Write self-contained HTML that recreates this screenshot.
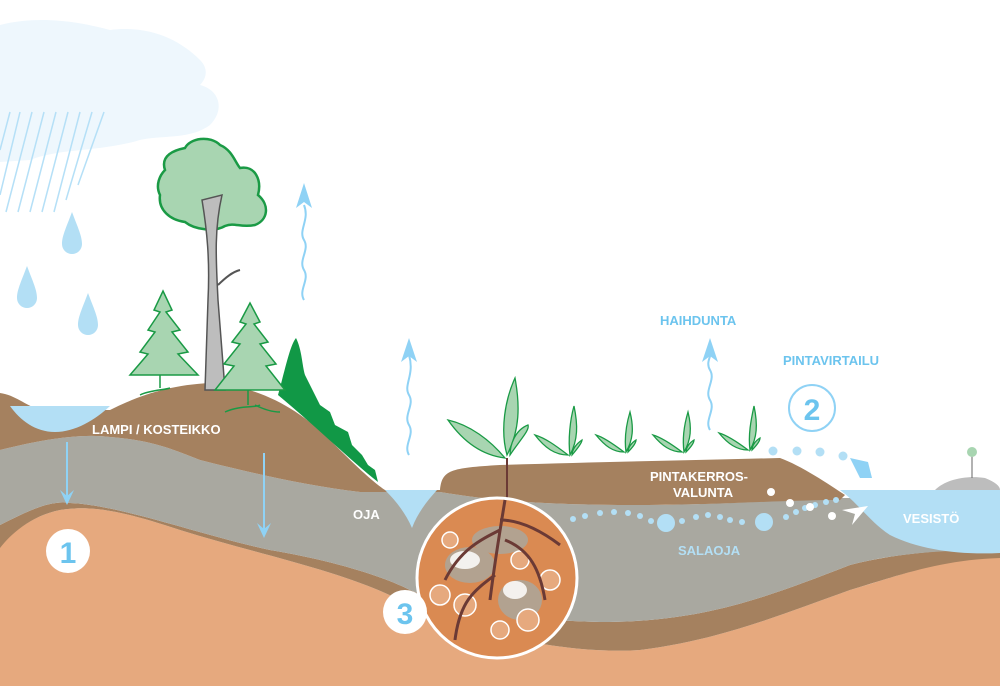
<!DOCTYPE html>
<html><head><meta charset="utf-8"><style>
html,body{margin:0;padding:0;background:#fff}
svg{display:block}
text{font-family:"Liberation Sans",sans-serif;font-weight:bold}
</style></head><body>
<svg width="1000" height="686" viewBox="0 0 1000 686" xmlns="http://www.w3.org/2000/svg">
<!-- cloud -->
<path d="M0,25 C40,15 80,22 110,30 C150,25 180,40 200,60 C210,70 205,80 200,85 C220,90 225,110 210,125 C190,140 160,135 140,140 C100,152 60,148 30,160 L0,162 Z" fill="#eef7fd"/>
<g stroke="#b5e0f7" stroke-width="1.5">
<line x1="0" y1="150" x2="10" y2="112"/><line x1="6" y1="212" x2="32" y2="112"/><line x1="18" y1="212" x2="44" y2="112"/><line x1="30" y1="212" x2="56" y2="112"/><line x1="42" y1="212" x2="68" y2="112"/><line x1="54" y1="212" x2="80" y2="112"/><line x1="66" y1="200" x2="92" y2="112"/><line x1="78" y1="185" x2="104" y2="112"/><line x1="0" y1="195" x2="20" y2="112"/>
</g>
<g fill="#b3dff5">
<path d="M72,212 C66,228 62,236 62,244 A10,10 0 0 0 82,244 C82,236 78,228 72,212Z"/>
<path d="M27,266 C21,282 17,290 17,298 A10,10 0 0 0 37,298 C37,290 33,282 27,266Z"/>
<path d="M88,293 C82,309 78,317 78,325 A10,10 0 0 0 98,325 C98,317 94,309 88,293Z"/>
</g>
<!-- layers -->
<path d="M0,560 L0,686 L1000,686 L1000,555 C940,560 900,575 850,590 C780,615 720,640 640,650 C560,655 460,630 400,600 C340,570 260,555 180,530 C120,510 90,505 60,510 C30,516 10,535 0,545Z" fill="#e6a97e"/>
<path d="M0,525 C30,510 50,500 70,503 C120,505 200,535 270,550 C330,560 380,575 410,590 C460,610 520,620 600,622 C700,622 760,600 850,565 C900,552 950,550 1000,548 L1000,558 C940,560 900,575 850,590 C780,615 720,640 640,650 C560,655 460,630 400,600 C340,570 260,555 180,530 C120,510 90,505 60,510 C30,516 10,535 0,548Z" fill="#a5815f"/>
<path d="M0,450 C40,440 80,433 110,437 C150,440 170,448 200,460 C240,470 300,485 360,492 L440,492 C500,502 560,505 640,505 C720,505 780,500 840,498 L1000,498 L1000,550 C950,550 900,552 850,565 C760,600 700,622 600,622 C520,620 460,610 410,590 C380,575 330,560 270,550 C200,535 120,505 70,503 C50,500 30,510 0,525Z" fill="#a9a8a0"/>
<path d="M0,393 C15,395 25,405 40,410 L110,410 C140,395 170,385 210,383 C260,386 300,410 330,440 C350,460 370,480 385,490 L440,490 C442,470 450,468 500,465 C600,462 700,460 780,458 C800,465 830,485 845,495 L840,500 C780,500 720,505 640,505 C560,505 500,502 440,492 L360,492 C300,485 240,470 200,460 C170,448 150,440 110,437 C80,433 40,440 0,450Z" fill="#a5815f"/>
<!-- lake -->
<path d="M10,406 L110,406 C95,420 75,432 55,432 C35,432 20,420 10,406Z" fill="#b3dff5"/>
<!-- oja -->
<path d="M385,490 L437,490 C428,500 418,512 412,528 C405,512 395,500 385,490Z" fill="#b3dff5"/>
<!-- vesisto -->
<path d="M840,490 L1000,490 L1000,553 C960,555 920,550 890,535 C870,522 860,505 840,490Z" fill="#b3dff5"/>
<path d="M935,490 C945,480 965,475 985,478 C995,482 1000,486 1000,490Z" fill="#bdbdbd"/>
<line x1="972" y1="478" x2="972" y2="455" stroke="#666" stroke-width="1"/>
<circle cx="972" cy="452" r="5" fill="#a8d5b1"/>
<!-- dark green bush -->
<path d="M278,395 C285,370 290,345 296,338 C302,350 302,365 305,375 C310,385 315,395 320,405 L330,412 L335,425 L348,432 L352,445 L362,455 L368,465 L375,470 L378,482 C350,460 320,430 278,395Z" fill="#119846"/>
<!-- big tree -->
<path d="M165,170 C160,155 175,150 185,148 C190,138 210,135 220,145 C232,150 235,162 240,168 C255,165 262,180 258,195 C270,205 268,220 255,225 C240,228 235,222 225,226 C215,232 195,230 185,222 C170,220 158,210 160,195 C155,185 160,175 165,170Z" fill="#a8d5b1" stroke="#1a9a45" stroke-width="2.5"/>
<path d="M202,200 C207,230 210,260 208,300 L205,390 L225,390 L218,300 C216,260 214,230 222,195Z" fill="#bdbdbd" stroke="#555" stroke-width="1.5"/>
<path d="M218,285 C225,278 232,272 240,270" stroke="#555" stroke-width="2" fill="none"/>
<!-- spruces -->
<g fill="#a8d5b1" stroke="#1a9a45" stroke-width="1.5">
<path d="M163,291 L172,310 L166,312 L180,330 L172,332 L188,352 L178,354 L198,375 L130,375 L148,354 L140,352 L155,332 L148,330 L160,312 L154,310Z"/>
<path d="M250,303 L260,322 L254,324 L268,342 L260,344 L276,364 L266,366 L285,390 L215,390 L234,366 L224,364 L240,344 L232,342 L246,324 L240,322Z"/>
</g>
<path d="M160,375 L160,388 M140,395 C150,390 165,390 170,388 M248,390 L248,405 M225,412 C240,405 255,408 260,405 M255,405 C265,410 272,412 280,412" stroke="#1a9a45" stroke-width="1.5" fill="none"/>
<!-- vapor arrows -->
<g stroke="#8fd2f5" stroke-width="2" fill="none">
<path d="M304,300 C298,290 310,280 304,270 C298,260 310,250 304,240 C298,230 310,220 304,205"/>
<path d="M409,455 C403,445 415,435 409,425 C403,415 415,405 409,395 C403,385 415,375 409,355"/>
<path d="M710,430 C704,420 716,410 710,400 C704,390 716,380 710,370 C704,360 716,352 710,345"/>
<line x1="67" y1="442" x2="67" y2="500"/>
<line x1="264" y1="453" x2="264" y2="532"/>
</g>
<g fill="#8fd2f5">
<path d="M304,183 L296,208 L304,202 L312,208Z"/>
<path d="M409,338 L401,362 L409,356 L417,362Z"/>
<path d="M710,338 L702,362 L710,356 L718,362Z"/>
<path d="M67,505 L60,490 L67,496 L74,490Z"/>
<path d="M264,538 L257,523 L264,529 L271,523Z"/>
</g>
<!-- field plants -->
<g fill="#a8d5b1" stroke="#1a9a45" stroke-width="1.3">
<path d="M505,458 C490,440 470,425 448,420 C462,440 480,455 505,458Z"/>
<path d="M507,455 C500,430 505,400 515,378 C520,405 520,430 507,455Z"/>
<path d="M510,455 C520,440 530,430 528,425 C515,430 510,445 510,455Z"/>
<path d="M568,455 C555,445 545,438 535,435 C545,448 555,455 568,455Z M570,455 C568,440 570,420 574,406 C578,425 578,440 570,455Z M572,455 C578,448 582,442 582,440 C576,444 572,450 572,455Z"/>
<path d="M624,452 C612,443 603,437 596,435 C605,446 613,452 624,452Z M626,452 C624,437 627,422 630,412 C634,428 633,440 626,452Z M628,452 C634,446 636,442 636,440 C631,443 628,448 628,452Z"/>
<path d="M682,452 C670,443 660,437 653,435 C662,446 671,452 682,452Z M684,452 C682,437 685,422 688,412 C692,428 691,440 684,452Z M686,452 C692,446 694,442 694,440 C689,443 686,448 686,452Z"/>
<path d="M748,450 C736,441 726,435 719,433 C728,444 737,450 748,450Z M750,450 C748,435 751,420 754,406 C758,425 757,438 750,450Z M752,450 C758,444 760,440 760,438 C755,441 752,446 752,450Z"/>
</g>
<path d="M507,458 L507,500" stroke="#6b3a35" stroke-width="2"/>
<!-- circle -->
<circle cx="497" cy="578" r="80" fill="#da8a52" stroke="#fff" stroke-width="3"/>
<g fill="#a9a8a0" opacity="0.8"><ellipse cx="470" cy="565" rx="25" ry="18"/><ellipse cx="520" cy="600" rx="22" ry="20"/><ellipse cx="500" cy="540" rx="28" ry="14"/></g>
<g fill="#fff" opacity="0.85"><ellipse cx="465" cy="560" rx="15" ry="9"/><ellipse cx="515" cy="590" rx="12" ry="9"/></g>
<g fill="#e6a97e" stroke="#fff" stroke-width="1.5"><circle cx="440" cy="595" r="10"/><circle cx="465" cy="605" r="11"/><circle cx="528" cy="620" r="11"/><circle cx="550" cy="580" r="10"/><circle cx="520" cy="560" r="9"/><circle cx="450" cy="540" r="8"/><circle cx="500" cy="630" r="9"/></g>
<g stroke="#6b3a35" stroke-width="3" fill="none"><path d="M505,500 C500,530 495,560 490,600 M500,530 C480,540 460,550 445,580 M505,540 C530,550 540,570 545,600 M495,575 C475,590 460,600 455,640 M500,520 C520,520 540,530 560,545"/></g>
<!-- drainage dots -->
<g fill="#b3dff5">
<circle cx="573" cy="519" r="3"/><circle cx="585" cy="516" r="3"/><circle cx="600" cy="513" r="3"/><circle cx="614" cy="512" r="3"/><circle cx="628" cy="513" r="3"/><circle cx="640" cy="516" r="3"/><circle cx="651" cy="521" r="3"/><circle cx="666" cy="523" r="9"/><circle cx="682" cy="521" r="3"/><circle cx="696" cy="517" r="3"/><circle cx="708" cy="515" r="3"/><circle cx="720" cy="517" r="3"/><circle cx="730" cy="520" r="3"/><circle cx="742" cy="522" r="3"/><circle cx="764" cy="522" r="9"/><circle cx="786" cy="517" r="3"/><circle cx="796" cy="512" r="3"/><circle cx="805" cy="508" r="3"/><circle cx="815" cy="505" r="3"/><circle cx="826" cy="502" r="3"/><circle cx="836" cy="500" r="3"/>
<circle cx="773" cy="451" r="4.5"/><circle cx="797" cy="451" r="4.5"/><circle cx="820" cy="452" r="4.5"/><circle cx="843" cy="456" r="4.5"/>
</g>
<path d="M850,458 L872,478 L868,462Z M850,458 L872,478 L860,478Z" fill="#8fd2f5"/>
<g fill="#fff"><circle cx="771" cy="492" r="4"/><circle cx="790" cy="503" r="4"/><circle cx="810" cy="507" r="4"/><circle cx="832" cy="516" r="4"/></g>
<path d="M842,510 L868,506 L852,525 L855,514Z" fill="#fff"/>
<!-- number circles -->
<circle cx="68" cy="551" r="22" fill="#fff"/>
<text x="68" y="563" font-size="30" fill="#6cc4ee" text-anchor="middle">1</text>
<circle cx="812" cy="408" r="23" fill="#fff" stroke="#8fd2f5" stroke-width="2"/>
<text x="812" y="420" font-size="30" fill="#6cc4ee" text-anchor="middle">2</text>
<circle cx="405" cy="612" r="22" fill="#fff"/>
<text x="405" y="624" font-size="30" fill="#6cc4ee" text-anchor="middle">3</text>
<!-- labels -->
<g font-size="13" fill="#fff">
<text x="92" y="434">LAMPI / KOSTEIKKO</text>
<text x="353" y="519">OJA</text>
<text x="650" y="481">PINTAKERROS-</text>
<text x="673" y="497">VALUNTA</text>
<text x="903" y="523">VESISTÖ</text>
</g>
<g font-size="13" fill="#6cc4ee">
<text x="660" y="325">HAIHDUNTA</text>
<text x="783" y="365">PINTAVIRTAILU</text>
</g>
<text x="678" y="555" font-size="13" fill="#b3dff5">SALAOJA</text>
</svg>
</body></html>
